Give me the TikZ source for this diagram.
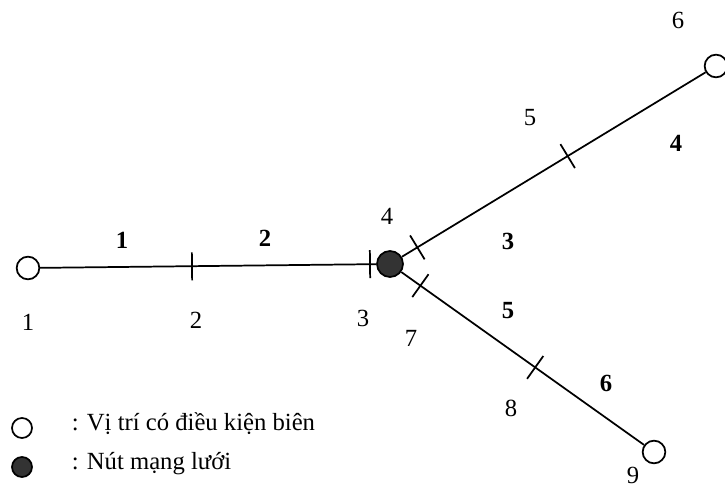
\documentclass[tikz,border=0pt]{standalone}
\usepackage{fontspec}
\setmainfont{Liberation Serif}
\usetikzlibrary{calc}
\begin{document}
\begin{tikzpicture}[x=0.75pt,y=-0.75pt,
  line width=1.3pt,
  bnd/.style={circle,draw,fill=white,minimum size=17pt,inner sep=0pt},
  hubnode/.style={circle,draw,fill=black!80,minimum size=19.5pt,inner sep=0pt},
  lab/.style={font=\fontsize{18.5}{22}\selectfont,inner sep=0pt},
  blab/.style={font=\fontsize{18.5}{22}\selectfont\bfseries,inner sep=0pt}]
\useasboundingbox (0,0) rectangle (725,488);
% nodes
\node[hubnode] (hub) at (390,264) {};
\node[bnd] (n1) at (28,268) {};
\node[bnd] (n6) at (716,66) {};
\node[bnd] (n9) at (654,452) {};
% branches
\draw (n1) -- (hub);
\draw (hub) -- (n6);
\draw (hub) -- (n9);
% tick positions
\coordinate (t2) at (192,266.4);
\coordinate (t3) at (370,264.2);
\coordinate (t4) at ($(hub)!24pt!(n6)$);
\coordinate (t5) at ($(hub)!0.545!(n6)$);
\coordinate (t7) at ($(hub)!28pt!(n9)$);
\coordinate (t8) at ($(hub)!0.55!(n9)$);
\foreach \t/\e in {t2/n1,t3/n1,t4/n6,t5/n6,t7/n9,t8/n9}{
  \draw ($(\t)!10.5pt!90:(\e)$) -- ($(\t)!10.5pt!-90:(\e)$);
}
% element numbers (bold)
\node[blab] (e1) at (122,240) {1};
\node[blab] (e2) at (265,238) {2};
\node[blab] (e3) at (508,241) {3};
\node[blab] (e4) at (676,143) {4};
\node[blab] (e5) at (508,311) {5};
\node[blab] (e6) at (606,383) {6};
% point numbers
\node[lab] (p1) at (28,322) {1};
\node[lab] (p2) at (196,320) {2};
\node[lab] (p3) at (363,318) {3};
\node[lab] (p4) at (387,216) {4};
\node[lab] (p5) at (530,118) {5};
\node[lab] (p6) at (678,20) {6};
\node[lab] (p7) at (411,338) {7};
\node[lab] (p8) at (511,408) {8};
\node[lab] (p9) at (633,475) {9};
% legend
\node[bnd,minimum size=15pt] (lg1) at (22,428) {};
\node[hubnode,minimum size=15pt] (lg2) at (22,467) {};
\node[lab,anchor=west] (lt1) at (71,424) {: Vị trí có điều kiện biên};
\node[lab,anchor=west] (lt2) at (71,464) {: Nút mạng lưới};
\end{tikzpicture}
\end{document}
